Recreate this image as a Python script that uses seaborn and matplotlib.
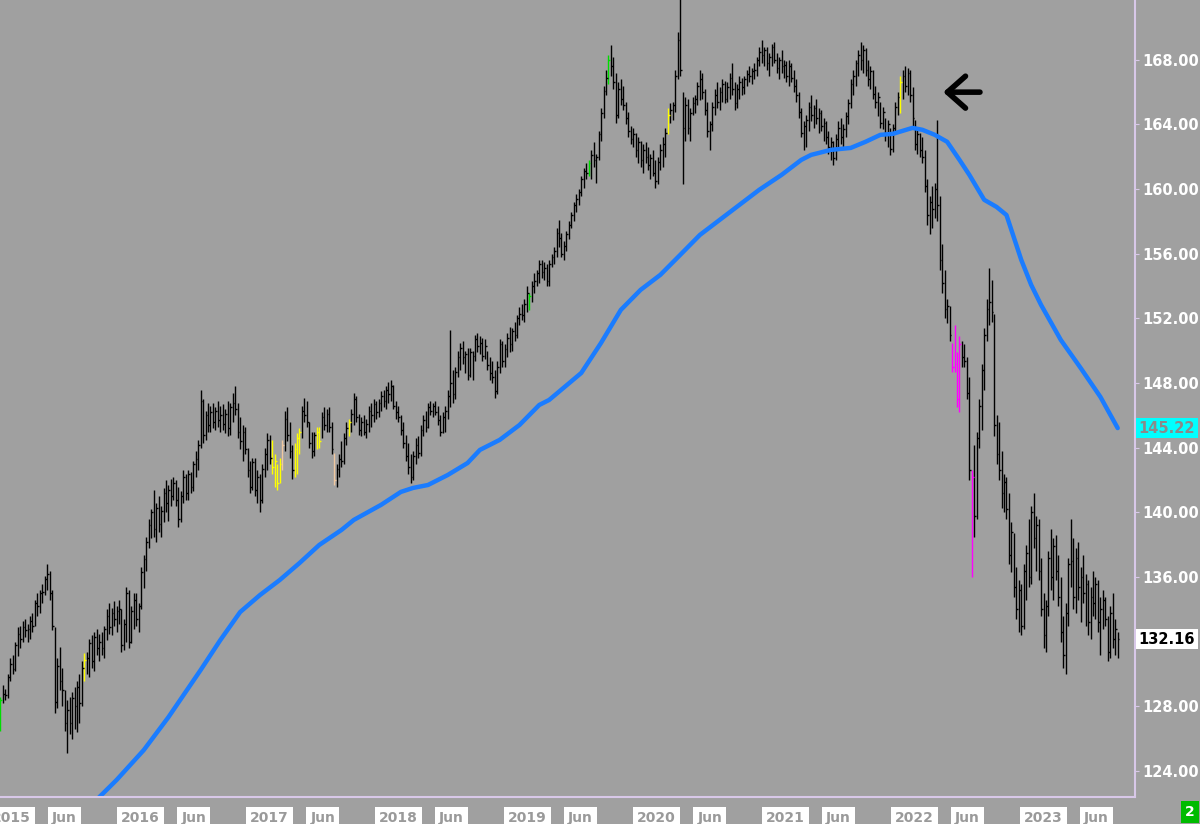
import pandas as pd
import numpy as np
import matplotlib
matplotlib.use("Agg")
import matplotlib.pyplot as plt
import matplotlib.dates as mdates
import matplotlib.transforms as mtransforms
import seaborn as sns

# weekly bars, first bar in the week of 2014-12-01
start = "2014-12-01"

lows = [
    126.5, 128.2, 128.4, 128.5, 129.6, 130.0, 130.2, 131.1, 131.6, 132.0,
    132.3, 132.0, 132.2, 132.6, 133.0, 133.6, 133.8, 134.4, 134.9, 135.2,
    134.6, 132.7, 127.6, 127.9, 129.0, 128.0, 126.5, 125.1, 126.3, 126.0,
    126.6, 126.4, 127.0, 128.0, 129.6, 130.0, 129.8, 130.4, 130.2, 131.2,
    130.8, 131.2, 131.0, 132.1, 132.5, 132.4, 133.0, 132.6, 133.1, 131.4,
    131.5, 132.0, 131.6, 131.9, 132.8, 133.0, 132.6, 134.0, 135.3, 136.4,
    137.8, 138.4, 138.5, 138.2, 138.8, 138.5, 139.4, 140.0, 139.5, 140.4,
    140.8, 140.4, 139.1, 139.4, 140.6, 140.8, 140.8, 141.2, 141.3, 142.2,
    142.6, 144.0, 144.3, 144.5, 145.0, 145.0, 145.2, 145.1, 145.3, 145.0,
    145.1, 144.9, 144.7, 144.8, 145.6, 146.0, 144.6, 143.9, 143.2, 143.6,
    142.2, 141.2, 141.4, 141.0, 140.6, 140.0, 140.6, 142.2, 142.6, 143.0,
    142.4, 141.6, 141.4, 141.8, 142.6, 143.8, 144.4, 143.4, 142.1, 142.2,
    142.4, 143.6, 144.6, 145.6, 145.3, 144.0, 143.4, 143.5, 143.9, 144.0,
    144.6, 145.1, 145.0, 145.0, 143.6, 141.7, 141.6, 142.2, 142.8, 143.0,
    144.2, 144.7, 145.0, 145.4, 145.6, 144.8, 144.7, 144.8, 144.6, 145.0,
    145.3, 145.6, 145.8, 145.9, 146.3, 146.5, 146.4, 146.8, 146.9, 146.4,
    145.8, 145.6, 144.8, 144.0, 143.2, 142.4, 141.8, 142.0, 143.0, 143.4,
    143.5, 144.7, 145.0, 145.2, 146.0, 145.9, 146.0, 145.4, 144.7, 144.9,
    145.0, 145.8, 146.5, 146.8, 147.0, 148.4, 148.8, 149.2, 148.6, 148.2,
    148.4, 148.2, 149.4, 149.9, 149.8, 149.4, 149.5, 148.8, 148.2, 148.0,
    147.1, 147.3, 148.6, 149.0, 149.0, 149.6, 149.9, 150.0, 150.6, 150.8,
    151.6, 151.9, 151.8, 152.4, 152.5, 153.0, 153.6, 154.0, 154.2, 154.5,
    154.4, 154.0, 154.0, 155.2, 155.4, 155.8, 156.4, 155.8, 155.6, 156.2,
    156.9, 157.6, 158.0, 158.6, 159.0, 159.6, 160.1, 160.6, 160.8, 160.6,
    161.4, 160.4, 161.8, 163.0, 164.4, 165.8, 166.5, 167.0, 166.2, 164.1,
    164.4, 165.2, 164.9, 164.0, 163.2, 162.8, 162.6, 162.0, 161.6, 161.4,
    161.0, 161.6, 161.2, 160.6, 160.8, 160.1, 160.3, 161.2, 161.4, 162.0,
    163.4, 164.1, 164.3, 164.8, 166.8, 167.0, 160.3, 163.0, 163.4, 163.0,
    164.6, 164.7, 165.2, 165.5, 165.6, 164.6, 163.2, 162.4, 163.6, 164.6,
    165.0, 164.9, 165.4, 165.3, 165.4, 165.6, 165.8, 164.9, 165.0, 165.6,
    165.8, 165.9, 166.4, 166.6, 166.5, 166.8, 167.0, 167.6, 167.8, 167.6,
    167.4, 167.0, 167.6, 167.8, 167.2, 166.8, 167.2, 166.9, 166.6, 166.4,
    166.6, 166.0, 165.4, 164.4, 163.2, 162.4, 162.6, 163.6, 164.2, 163.8,
    164.0, 163.5, 163.6, 163.0, 162.8, 162.2, 161.8, 161.5, 161.8, 162.6,
    162.8, 162.6, 163.2, 164.0, 165.0, 165.8, 166.4, 167.0, 167.4, 167.2,
    167.0, 166.4, 166.2, 165.6, 165.0, 164.5, 163.8, 163.7, 163.0, 162.6,
    162.1, 162.3, 163.6, 164.6, 164.7, 165.6, 166.0, 165.8, 165.4, 163.9,
    162.4, 162.2, 162.0, 161.6, 159.8, 157.8, 157.2, 157.6, 158.2, 158.0,
    155.0, 153.6, 152.0, 151.7, 150.6, 148.7, 148.7, 146.5, 146.2, 149.0,
    149.0, 147.0, 142.0, 136.0, 138.5, 139.6, 144.0, 145.1, 147.6, 150.6,
    151.6, 151.8, 144.7, 143.0, 142.0, 140.3, 140.0, 139.6, 136.8, 136.3,
    134.8, 133.4, 132.6, 132.4, 132.8, 134.6, 135.4, 135.6, 137.8, 136.4,
    135.8, 133.6, 131.6, 131.4, 133.6, 135.2, 134.6, 135.8, 134.2, 132.0,
    130.4, 130.0, 133.0, 135.4, 134.0, 133.8, 134.6, 133.2, 134.4, 133.0,
    132.4, 132.2, 133.6, 133.4, 132.6, 131.2, 132.8, 133.0, 130.8, 131.0,
    131.6, 131.2, 131.0,
]

highs = [
    128.6, 129.3, 129.1, 130.0, 131.0, 131.2, 132.0, 132.9, 133.0, 133.3,
    133.4, 133.1, 133.6, 133.8, 134.6, 135.0, 135.2, 135.6, 136.1, 136.8,
    136.4, 135.2, 132.9, 131.0, 131.7, 130.4, 129.0, 128.4, 128.6, 128.9,
    129.2, 129.6, 130.0, 130.8, 131.3, 131.4, 132.2, 132.4, 132.6, 132.8,
    132.5, 132.6, 133.0, 134.0, 134.4, 134.1, 134.5, 134.2, 134.6, 134.0,
    133.4, 135.4, 135.2, 134.2, 135.0, 135.0, 134.4, 136.6, 137.4, 138.5,
    139.6, 140.2, 141.4, 140.6, 141.0, 140.4, 141.5, 142.0, 141.7, 142.1,
    142.2, 142.0, 141.6, 141.3, 142.6, 142.4, 142.6, 142.5, 143.2, 143.8,
    144.5, 147.6, 147.0, 146.3, 146.8, 146.6, 146.8, 146.5, 146.9, 146.6,
    146.7, 146.4, 146.9, 146.8, 147.4, 147.8, 146.8, 145.9, 145.4, 145.3,
    144.0, 143.2, 143.4, 143.4, 142.6, 142.4, 143.0, 144.0, 144.9, 144.8,
    144.5, 143.6, 143.0, 143.4, 144.5, 146.3, 146.5, 145.6, 144.2, 144.3,
    144.9, 145.2, 146.6, 147.1, 146.9, 145.6, 145.0, 145.0, 145.3, 145.3,
    146.2, 146.5, 146.4, 146.5, 145.6, 143.7, 143.0, 143.6, 144.4, 144.9,
    145.6, 145.8, 146.4, 147.4, 147.2, 146.1, 145.9, 146.0, 145.8, 146.6,
    146.8, 147.0, 146.9, 147.0, 147.5, 147.6, 147.8, 148.1, 148.2, 147.9,
    146.9, 146.6, 146.0, 145.6, 144.8, 144.3, 143.6, 143.8, 144.6, 144.7,
    145.4, 146.0, 146.3, 146.8, 146.9, 146.8, 146.9, 146.6, 146.0, 146.2,
    146.6, 147.6, 151.3, 148.8, 149.0, 150.0, 150.5, 150.6, 150.0, 150.2,
    150.2, 150.0, 151.0, 151.1, 150.9, 150.8, 150.7, 150.0, 149.6, 149.4,
    148.8, 149.4, 150.7, 150.6, 150.4, 151.1, 151.5, 151.4, 151.8, 152.2,
    152.7, 152.9, 153.2, 154.0, 153.6, 154.3, 154.8, 155.0, 155.6, 155.6,
    155.5, 155.4, 155.6, 156.0, 156.4, 157.6, 158.1, 157.3, 156.8, 157.4,
    158.0, 158.6, 159.2, 159.7, 160.0, 160.8, 161.3, 161.6, 161.8, 162.4,
    162.9, 162.2, 163.6, 165.0, 166.4, 167.4, 168.3, 168.9, 168.2, 167.2,
    166.6, 166.8, 166.4, 165.4, 164.8, 163.9, 163.8, 163.5, 163.2, 163.0,
    162.8, 162.9, 162.6, 162.2, 162.4, 161.8, 162.0, 162.8, 163.2, 163.8,
    165.0, 165.3, 165.4, 167.4, 169.7, 172.0, 166.0, 165.7, 165.6, 165.0,
    165.7, 165.8, 166.6, 167.4, 167.2, 166.2, 165.4, 164.2, 165.4, 166.2,
    166.6, 166.3, 166.8, 166.7, 166.6, 167.2, 167.8, 166.6, 166.5, 167.0,
    166.9, 167.0, 167.4, 167.6, 167.5, 167.8, 168.2, 168.8, 169.2, 168.8,
    168.8, 168.4, 169.0, 169.1, 168.4, 168.2, 168.6, 168.0, 167.9, 168.0,
    167.8, 167.4, 166.8, 166.0, 165.0, 164.2, 164.6, 165.4, 165.8, 165.2,
    165.6, 165.0, 164.9, 164.4, 164.2, 163.6, 163.2, 163.0, 163.4, 164.2,
    164.4, 164.0, 164.8, 165.6, 166.8, 167.4, 168.0, 168.6, 169.1, 168.9,
    168.7, 168.0, 167.6, 167.4, 166.4, 166.0, 165.4, 165.1, 164.4, 164.3,
    163.8, 164.0, 165.4, 166.0, 167.0, 167.4, 167.6, 167.5, 167.4, 166.3,
    164.3, 163.8, 163.5, 163.2, 162.4, 160.6, 159.6, 160.2, 160.4, 164.3,
    159.6, 156.6, 155.0, 153.2, 152.8, 150.5, 151.6, 149.9, 150.9, 150.6,
    150.4, 149.6, 148.4, 142.6, 144.2, 145.0, 147.0, 149.2, 151.4, 153.2,
    155.1, 154.4, 152.3, 146.0, 145.6, 143.8, 142.4, 142.2, 141.2, 139.4,
    138.7, 136.6, 135.8, 135.6, 136.8, 138.0, 139.6, 140.4, 141.2, 139.8,
    139.6, 137.2, 135.0, 134.6, 137.6, 139.0, 138.4, 138.6, 137.4, 136.0,
    133.6, 134.4, 137.2, 139.6, 138.4, 137.8, 138.2, 136.6, 137.4, 136.2,
    135.8, 135.4, 136.4, 136.0, 135.8, 134.8, 135.2, 134.8, 133.6, 134.2,
    135.0, 133.4, 132.6,
]

closes = [
    128.4, 128.8, 128.7, 129.8, 130.6, 130.3, 131.8, 132.5, 132.2, 132.9,
    132.7, 132.8, 133.3, 133.0, 134.4, 134.2, 135.0, 135.1, 135.9, 136.2,
    135.0, 133.0, 128.3, 130.5, 129.6, 129.0, 127.0, 127.8, 127.0, 128.5,
    128.0, 129.2, 128.2, 130.4, 130.9, 131.0, 131.9, 130.8, 132.3, 131.6,
    132.0, 131.6, 132.8, 133.6, 132.9, 133.8, 133.4, 133.9, 134.0, 131.8,
    133.1, 135.0, 132.0, 133.9, 134.6, 133.4, 134.2, 136.3, 137.1, 138.2,
    139.2, 140.0, 139.0, 140.3, 139.3, 140.1, 141.2, 140.6, 141.4, 141.0,
    141.8, 140.8, 139.6, 141.0, 142.2, 141.2, 142.4, 141.6, 143.0, 143.3,
    144.2, 146.9, 144.8, 146.0, 145.4, 146.2, 145.6, 146.3, 145.7, 146.0,
    145.5, 146.1, 145.2, 146.5, 146.8, 146.4, 145.0, 144.4, 145.0, 143.9,
    142.6, 141.6, 143.1, 141.4, 142.2, 140.8, 142.7, 143.6, 144.5, 143.4,
    142.8, 143.2, 141.8, 143.0, 144.2, 145.8, 144.8, 143.8, 142.6, 143.9,
    144.6, 145.0, 146.3, 146.0, 145.6, 144.3, 143.8, 144.8, 145.0, 144.4,
    145.9, 145.4, 146.1, 145.3, 143.9, 142.0, 142.7, 143.3, 143.2, 144.6,
    145.2, 145.6, 146.1, 147.0, 145.9, 145.1, 145.6, 145.0, 145.5, 146.3,
    146.0, 146.7, 146.2, 146.8, 147.2, 146.9, 147.6, 147.3, 147.8, 146.6,
    146.2, 145.9, 145.1, 144.3, 143.5, 142.8, 142.2, 143.5, 144.2, 143.7,
    145.1, 145.7, 145.3, 146.5, 146.3, 146.6, 146.2, 145.7, 145.0, 145.9,
    146.3, 147.2, 148.0, 147.3, 148.7, 149.6, 150.2, 149.6, 149.8, 148.5,
    149.9, 149.7, 150.7, 150.3, 150.5, 149.7, 150.3, 149.1, 148.6, 148.4,
    147.5, 149.0, 150.4, 149.4, 150.1, 150.8, 150.4, 151.2, 151.0, 152.0,
    152.3, 152.2, 152.9, 153.6, 153.4, 154.0, 154.3, 154.8, 155.4, 154.9,
    155.1, 154.3, 155.4, 155.8, 156.2, 157.3, 157.0, 156.0, 156.5, 157.2,
    157.8, 158.4, 159.0, 159.4, 159.8, 160.6, 161.1, 161.0, 161.6, 162.1,
    161.8, 162.0, 163.4, 164.7, 166.1, 166.9, 168.0, 167.6, 166.6, 164.6,
    166.2, 165.6, 165.2, 164.4, 163.6, 163.1, 163.4, 162.4, 162.9, 161.8,
    162.4, 162.0, 161.5, 161.9, 161.0, 160.5, 161.7, 162.4, 162.8, 163.5,
    164.6, 164.9, 165.2, 167.0, 169.2, 167.4, 163.8, 165.2, 163.8, 164.7,
    165.3, 165.6, 166.4, 166.8, 166.0, 164.9, 163.6, 164.0, 165.1, 165.8,
    165.4, 166.0, 166.5, 165.6, 166.3, 166.9, 166.2, 165.3, 166.2, 166.6,
    166.3, 166.8, 167.1, 167.0, 167.3, 167.4, 168.0, 168.5, 168.3, 168.6,
    167.8, 168.2, 168.8, 168.0, 167.5, 168.0, 167.6, 167.7, 167.0, 167.6,
    166.9, 166.4, 165.8, 164.8, 163.5, 163.9, 164.3, 165.1, 164.6, 165.0,
    164.4, 164.7, 163.9, 164.1, 163.2, 162.6, 162.9, 161.9, 163.1, 163.8,
    163.2, 163.7, 164.5, 165.3, 166.5, 167.0, 167.8, 168.3, 168.0, 168.6,
    167.4, 166.8, 167.3, 165.9, 165.4, 165.7, 164.1, 164.8, 163.4, 164.0,
    162.5, 163.8, 165.1, 165.7, 166.6, 167.0, 166.4, 167.2, 165.8, 164.4,
    162.8, 163.4, 162.4, 162.0, 160.2, 158.4, 159.2, 158.8, 160.0, 159.0,
    155.6, 154.2, 152.6, 152.8, 151.0, 149.0, 149.2, 147.0, 150.4, 149.6,
    149.4, 147.4, 142.6, 142.2, 139.8, 144.6, 146.6, 148.8, 151.0, 152.6,
    153.0, 152.4, 145.4, 143.6, 142.6, 141.2, 141.9, 140.2, 137.4, 138.8,
    135.4, 134.0, 135.2, 133.0, 136.4, 137.5, 136.0, 140.0, 138.4, 139.2,
    136.4, 134.0, 132.4, 134.2, 137.2, 136.0, 137.9, 136.4, 134.8, 132.6,
    131.2, 133.8, 136.8, 137.0, 134.8, 137.2, 135.4, 136.0, 135.0, 135.6,
    133.2, 134.8, 134.4, 135.6, 133.2, 134.0, 134.6, 133.4, 131.4, 133.8,
    132.2, 132.8, 132.16,
]

# weeks whose bars are painted by the study colours
green_weeks = [0, 214, 238, 246]
yellow_weeks = [34, 110, 111, 112, 113, 119, 120, 121, 128, 129, 141, 270, 364]
pink_weeks = [114, 135]
magenta_weeks = [385, 386, 387, 388, 393]

# moving average read at selected weeks
ma_weeks = [31, 40, 47, 58, 68, 81, 89, 97, 105, 113, 121, 129, 138, 143, 154,
            162, 167, 173, 181, 189, 194, 202, 210, 218, 222, 235, 243, 251,
            259, 267, 275, 283, 291, 299, 307, 316, 324, 328, 336, 344, 350,
            356, 361, 369, 373, 378, 383, 388, 392, 398, 403, 407, 413, 417,
            421, 429, 437, 445, 452]
ma_values = [120.97, 122.39, 123.45, 125.30, 127.34, 130.25, 132.11, 133.84,
             134.89, 135.82, 136.87, 137.99, 138.92, 139.54, 140.47, 141.27,
             141.52, 141.70, 142.32, 143.06, 143.87, 144.49, 145.41, 146.65,
             146.96, 148.63, 150.49, 152.53, 153.77, 154.70, 155.93, 157.17,
             158.10, 159.03, 159.96, 160.88, 161.81, 162.12, 162.43, 162.55,
             162.93, 163.36, 163.42, 163.79, 163.67, 163.36, 162.93, 161.81,
             160.88, 159.34, 158.90, 158.40, 155.62, 154.08, 152.84, 150.67,
             148.94, 147.15, 145.22]

years = list(range(2015, 2024))
price_ticks = list(range(124, 169, 4))
last_price = 132.16
last_ma = 145.22
panel_number = "2"

data = pd.DataFrame({"low": lows, "high": highs, "close": closes})
data["date"] = pd.date_range(start, periods=len(data), freq="7D")
data["x"] = mdates.date2num(data["date"])
data["color"] = "black"
data.loc[green_weeks, "color"] = "#00dd00"
data.loc[yellow_weeks, "color"] = "#ffff00"
data.loc[pink_weeks, "color"] = "#f0c8a0"
data.loc[magenta_weeks, "color"] = "#ff00ff"

ma = pd.DataFrame({"x": data["x"].iloc[ma_weeks].values, "ma": ma_values})

sns.set_style("white")
bg = "#a0a0a0"
edge = "#d8c8e8"

fig = plt.figure(figsize=(12, 8.24), dpi=100, facecolor=bg)
ax = fig.add_axes([0, 27 / 824, 1135 / 1200, 797 / 824])
ax.set_facecolor(bg)

ax.vlines(data["x"], data["low"], data["high"], colors=data["color"], lw=1.0)
ax.hlines(data["close"], data["x"], data["x"] + 5, colors=data["color"], lw=1.0)

sns.lineplot(data=ma, x="x", y="ma", color="#1a7cff", lw=3.2, ax=ax)

ax.set_xlim(mdates.date2num(pd.Timestamp("2014-11-30")),
            mdates.date2num(pd.Timestamp("2023-09-18")))
ax.set_ylim(122.4, 171.7)

tick_pos = []
tick_lab = []
for y in years:
    tick_pos.append(mdates.date2num(pd.Timestamp(f"{y}-01-01")))
    tick_lab.append(str(y))
    tick_pos.append(mdates.date2num(pd.Timestamp(f"{y}-06-01")))
    tick_lab.append("Jun")
ax.set_xticks(tick_pos)
ax.set_xticklabels(tick_lab)
ax.tick_params(axis="x", direction="out", length=4, color=edge, pad=6,
               labelsize=10, labelcolor="#9a9a9a")
for lbl in ax.get_xticklabels():
    lbl.set_fontweight("bold")
    lbl.set_bbox(dict(facecolor="white", edgecolor="none", pad=3))

# the 132 level sits under the last-price tag, so its label stays blank
ax.yaxis.tick_right()
ax.set_yticks(price_ticks)
ax.set_yticklabels(["" if abs(v - last_price) < 1 else f"{v:.2f}" for v in price_ticks])
ax.tick_params(axis="y", direction="out", length=3, color=edge, pad=2,
               labelsize=10.5, labelcolor="white")
for lbl in ax.get_yticklabels():
    lbl.set_fontweight("bold")

ax.set_xlabel("")
ax.set_ylabel("")
ax.grid(False)
for side in ["left", "top"]:
    ax.spines[side].set_visible(False)
for side in ["right", "bottom"]:
    ax.spines[side].set_color(edge)
    ax.spines[side].set_linewidth(1.5)

trans = mtransforms.blended_transform_factory(ax.transAxes, ax.transData)
ax.text(1.003, last_ma, f"{last_ma:.2f}", transform=trans, ha="left", va="center",
        color="#8a8a8a", fontsize=10.5, fontweight="bold", clip_on=False,
        bbox=dict(facecolor="#00ffff", edgecolor="none", pad=2))
ax.text(1.003, last_price, f"{last_price:.2f}", transform=trans, ha="left",
        va="center", color="black", fontsize=10.5, fontweight="bold", clip_on=False,
        bbox=dict(facecolor="white", edgecolor="none", pad=2))

fig.text(1190 / 1200, 1 - 812 / 824, panel_number, color="white", fontsize=10,
         fontweight="bold", ha="center", va="center",
         bbox=dict(facecolor="#00bb00", edgecolor="none", pad=3))

# hand drawn arrow pointing at the MA cross
ax.annotate("", xy=(mdates.date2num(pd.Timestamp("2022-03-24")), 166.0),
            xytext=(mdates.date2num(pd.Timestamp("2022-07-06")), 166.0),
            arrowprops=dict(arrowstyle="->,head_length=1.3,head_width=1.15",
                            lw=4.0, color="black", shrinkA=0, shrinkB=0,
                            mutation_scale=10))

fig.savefig("out.png", dpi=100, facecolor=fig.get_facecolor())
